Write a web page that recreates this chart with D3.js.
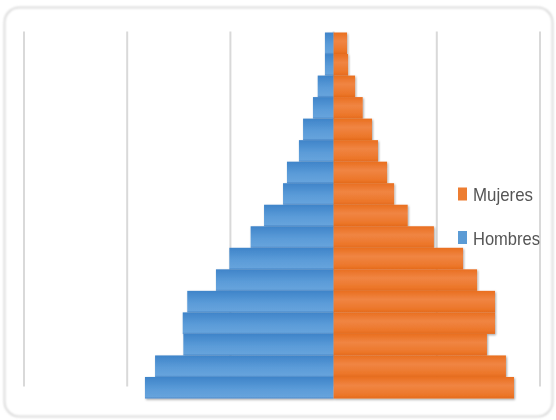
<!DOCTYPE html>
<html>
<head>
<meta charset="utf-8">
<script src="https://cdn.jsdelivr.net/npm/d3@7"></script>
<style>
  body { margin: 0; background: #fff; }
  svg { display: block; }
</style>
</head>
<body>
<div id="chart"></div>
<script>
// Age groups, bottom (youngest) to top (oldest)
const ageGroups = ["0-4", "5-9", "10-14", "15-19", "20-24", "25-29", "30-34", "35-39",
  "40-44", "45-49", "50-54", "55-59", "60-64", "65-69", "70-74", "75-79", "80+"];

// values, same order as ageGroups
const hombres = [9.14, 8.65, 7.28, 7.31, 7.09, 5.70, 5.05, 4.02, 3.37, 2.45, 2.26, 1.68, 1.48, 1.00, 0.77, 0.42, 0.42];
const mujeres = [8.74, 8.35, 7.43, 7.82, 7.82, 6.95, 6.27, 4.86, 3.59, 2.93, 2.59, 2.15, 1.86, 1.41, 1.04, 0.70, 0.65];

const gridTicks = [-15, -10, -5, 0, 5, 10];
const legendItems = ["Mujeres", "Hombres"];

const width = 556;
const height = 420;

const svg = d3.select('#chart')
  .append('svg')
  .attr('width', width)
  .attr('height', height);

const defs = svg.append('defs');

// bar gradients (Excel-like)
const gBlue = defs.append('linearGradient').attr('id', 'gBlue')
  .attr('x1', 0).attr('y1', 0).attr('x2', 0).attr('y2', 1);
gBlue.append('stop').attr('offset', '0%').attr('stop-color', '#3f84c9');
gBlue.append('stop').attr('offset', '55%').attr('stop-color', '#5a9bd8');
gBlue.append('stop').attr('offset', '92%').attr('stop-color', '#66a3dc');
gBlue.append('stop').attr('offset', '100%').attr('stop-color', '#4a88c8');

const gOrange = defs.append('linearGradient').attr('id', 'gOrange')
  .attr('x1', 0).attr('y1', 0).attr('x2', 0).attr('y2', 1);
gOrange.append('stop').attr('offset', '0%').attr('stop-color', '#e96f20');
gOrange.append('stop').attr('offset', '40%').attr('stop-color', '#f08543');
gOrange.append('stop').attr('offset', '85%').attr('stop-color', '#ec7629');
gOrange.append('stop').attr('offset', '100%').attr('stop-color', '#e46a1c');

const shadow = defs.append('filter').attr('id', 'shadow')
  .attr('x', '-10%').attr('y', '-10%').attr('width', '120%').attr('height', '130%');
shadow.append('feDropShadow')
  .attr('dx', 1).attr('dy', 1.2).attr('stdDeviation', 0.9)
  .attr('flood-color', '#000').attr('flood-opacity', 0.35);

const frameShadow = defs.append('filter').attr('id', 'frameShadow');
frameShadow.append('feGaussianBlur').attr('stdDeviation', 0.8);

const textBlur = defs.append('filter').attr('id', 'textBlur');
textBlur.append('feGaussianBlur').attr('stdDeviation', 0.35);

// outer frame
svg.append('rect')
  .attr('x', 4.5).attr('y', 7.5)
  .attr('width', 548).attr('height', 409)
  .attr('rx', 15)
  .attr('fill', '#fff')
  .attr('stroke', '#cfcfcf')
  .attr('stroke-width', 1.5)
  .attr('filter', 'url(#frameShadow)');

const xScale = d3.scaleLinear()
  .domain([-15, 10])
  .range([24, 540]);

const yScale = d3.scaleBand()
  .domain(ageGroups)
  .range([398.5, 32.5])
  .padding(0);

// gridlines
svg.append('g')
  .attr('class', 'gridlines')
  .selectAll('line')
  .data(gridTicks)
  .join('line')
  .attr('x1', d => xScale(d))
  .attr('x2', d => xScale(d))
  .attr('y1', yScale.range()[1] - 1)
  .attr('y2', yScale.range()[0] - 12)
  .attr('stroke', '#d9d9d9')
  .attr('stroke-width', 2);

const bars = svg.append('g').attr('class', 'bars').attr('filter', 'url(#shadow)');

bars.selectAll('rect.hombres')
  .data(ageGroups)
  .join('rect')
  .attr('class', 'hombres')
  .attr('x', (d, i) => xScale(-hombres[i]))
  .attr('y', d => yScale(d))
  .attr('width', (d, i) => xScale(0) - xScale(-hombres[i]))
  .attr('height', yScale.bandwidth())
  .attr('fill', 'url(#gBlue)');

bars.selectAll('rect.mujeres')
  .data(ageGroups)
  .join('rect')
  .attr('class', 'mujeres')
  .attr('x', xScale(0))
  .attr('y', d => yScale(d))
  .attr('width', (d, i) => xScale(mujeres[i]) - xScale(0))
  .attr('height', yScale.bandwidth())
  .attr('fill', 'url(#gOrange)');

// legend
const legendColors = { Mujeres: '#ed7d31', Hombres: '#5b9bd5' };
const legendWidths = { Mujeres: 60, Hombres: 67 };
const legend = svg.append('g').attr('class', 'legend');
const items = legend.selectAll('g')
  .data(legendItems)
  .join('g')
  .attr('transform', (d, i) => `translate(458, ${194 + i * 43.5})`);

items.append('rect')
  .attr('x', 0).attr('y', -6.5)
  .attr('width', 9).attr('height', 13)
  .attr('fill', d => legendColors[d]);

items.append('text')
  .attr('x', 15)
  .attr('y', 7)
  .attr('font-family', '"Liberation Sans Narrow", "Liberation Sans", "Noto Sans", sans-serif')
  .attr('font-size', 18.5)
  .attr('fill', '#555')
  .attr('textLength', d => legendWidths[d])
  .attr('lengthAdjust', 'spacingAndGlyphs')
  .attr('filter', 'url(#textBlur)')
  .text(d => d);
</script>
</body>
</html>
